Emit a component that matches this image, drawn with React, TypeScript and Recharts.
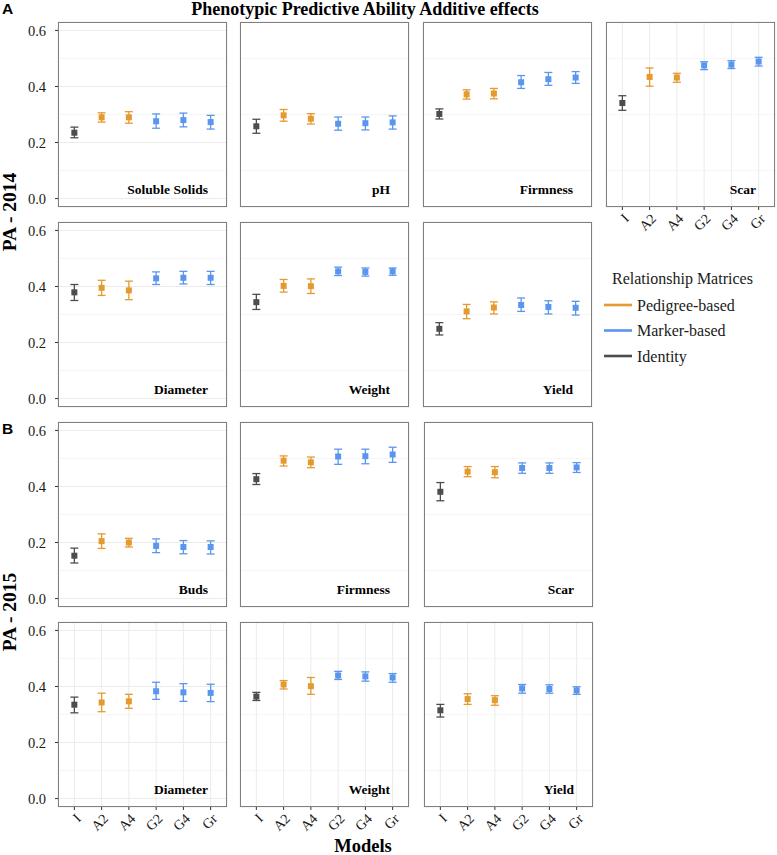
import React from "react";
import { CartesianGrid, ErrorBar, ReferenceLine, Scatter, ScatterChart, XAxis, YAxis } from "recharts";

const models = ["I", "A2", "A4", "G2", "G4", "Gr"];
const modelGroup = ["Identity", "Pedigree-based", "Pedigree-based", "Marker-based", "Marker-based", "Marker-based"];
const legendOrder = ["Pedigree-based", "Marker-based", "Identity"];
const yTicks = [0, 0.2, 0.4, 0.6];
const yMinor = [0.1, 0.3, 0.5];

// 2014 - mean PA and interval ends, model order as in `models`
const ss14 = [0.235, 0.29, 0.29, 0.276, 0.28, 0.273];
const ss14Lo = [0.217, 0.273, 0.269, 0.251, 0.256, 0.248];
const ss14Hi = [0.255, 0.306, 0.31, 0.302, 0.305, 0.297];
const ph14 = [0.258, 0.297, 0.285, 0.267, 0.269, 0.272];
const ph14Lo = [0.233, 0.276, 0.266, 0.244, 0.245, 0.248];
const ph14Hi = [0.283, 0.318, 0.303, 0.291, 0.291, 0.295];
const firm14 = [0.302, 0.372, 0.375, 0.415, 0.426, 0.432];
const firm14Lo = [0.284, 0.355, 0.356, 0.393, 0.404, 0.411];
const firm14Hi = [0.32, 0.388, 0.393, 0.439, 0.45, 0.453];
const scar14 = [0.341, 0.434, 0.432, 0.475, 0.478, 0.489];
const scar14Lo = [0.315, 0.401, 0.415, 0.46, 0.464, 0.473];
const scar14Hi = [0.367, 0.466, 0.447, 0.488, 0.492, 0.504];
const diam14 = [0.379, 0.395, 0.386, 0.429, 0.431, 0.431];
const diam14Lo = [0.35, 0.368, 0.353, 0.407, 0.409, 0.407];
const diam14Hi = [0.407, 0.422, 0.419, 0.452, 0.454, 0.454];
const wt14 = [0.344, 0.402, 0.401, 0.454, 0.452, 0.454];
const wt14Lo = [0.318, 0.38, 0.375, 0.439, 0.437, 0.44];
const wt14Hi = [0.372, 0.425, 0.427, 0.469, 0.466, 0.466];
const yld14 = [0.249, 0.311, 0.325, 0.334, 0.327, 0.324];
const yld14Lo = [0.227, 0.285, 0.302, 0.311, 0.302, 0.298];
const yld14Hi = [0.271, 0.336, 0.345, 0.359, 0.349, 0.347];

// 2015
const buds15 = [0.153, 0.205, 0.2, 0.188, 0.184, 0.184];
const buds15Lo = [0.127, 0.179, 0.184, 0.164, 0.16, 0.159];
const buds15Hi = [0.18, 0.231, 0.215, 0.213, 0.207, 0.206];
const firm15 = [0.426, 0.492, 0.486, 0.507, 0.508, 0.514];
const firm15Lo = [0.407, 0.473, 0.467, 0.479, 0.481, 0.486];
const firm15Hi = [0.446, 0.509, 0.505, 0.533, 0.533, 0.54];
const scar15 = [0.381, 0.453, 0.451, 0.466, 0.466, 0.468];
const scar15Lo = [0.349, 0.435, 0.431, 0.447, 0.447, 0.45];
const scar15Hi = [0.414, 0.471, 0.471, 0.484, 0.484, 0.485];
const diam15 = [0.335, 0.343, 0.347, 0.383, 0.379, 0.377];
const diam15Lo = [0.306, 0.31, 0.322, 0.354, 0.347, 0.346];
const diam15Hi = [0.362, 0.376, 0.372, 0.415, 0.41, 0.408];
const wt15 = [0.364, 0.407, 0.401, 0.439, 0.436, 0.432];
const wt15Lo = [0.35, 0.391, 0.372, 0.425, 0.419, 0.415];
const wt15Hi = [0.379, 0.421, 0.432, 0.454, 0.452, 0.446];
const yld15 = [0.315, 0.355, 0.351, 0.393, 0.391, 0.386];
const yld15Lo = [0.291, 0.336, 0.333, 0.376, 0.376, 0.372];
const yld15Hi = [0.336, 0.374, 0.367, 0.407, 0.406, 0.399];

const colors: Record<string, string> = {
  "Pedigree-based": "#E59A2F",
  "Marker-based": "#5A96EE",
  Identity: "#4D4D4D",
};

const SERIF = "Liberation Serif, Times New Roman, serif";
const serif = { fontFamily: SERIF };
const PW = 169;
const PH = 185;
const AXW = 48;
const PAD = 3;
const XH = 42;

type PanelDef = {
  name: string;
  left: number;
  top: number;
  pa: number[];
  lo: number[];
  hi: number[];
  showY: boolean;
  showX: boolean;
};

const panels: PanelDef[] = [
  { name: "Soluble Solids", left: 58, top: 22, pa: ss14, lo: ss14Lo, hi: ss14Hi, showY: true, showX: false },
  { name: "pH", left: 240, top: 22, pa: ph14, lo: ph14Lo, hi: ph14Hi, showY: false, showX: false },
  { name: "Firmness", left: 423, top: 22, pa: firm14, lo: firm14Lo, hi: firm14Hi, showY: false, showX: false },
  { name: "Scar", left: 606, top: 22, pa: scar14, lo: scar14Lo, hi: scar14Hi, showY: false, showX: true },
  { name: "Diameter", left: 58, top: 222, pa: diam14, lo: diam14Lo, hi: diam14Hi, showY: true, showX: false },
  { name: "Weight", left: 240, top: 222, pa: wt14, lo: wt14Lo, hi: wt14Hi, showY: false, showX: false },
  { name: "Yield", left: 423, top: 222, pa: yld14, lo: yld14Lo, hi: yld14Hi, showY: false, showX: false },
  { name: "Buds", left: 58, top: 422, pa: buds15, lo: buds15Lo, hi: buds15Hi, showY: true, showX: false },
  { name: "Firmness", left: 240, top: 422, pa: firm15, lo: firm15Lo, hi: firm15Hi, showY: false, showX: false },
  { name: "Scar", left: 424, top: 422, pa: scar15, lo: scar15Lo, hi: scar15Hi, showY: false, showX: false },
  { name: "Diameter", left: 58, top: 622, pa: diam15, lo: diam15Lo, hi: diam15Hi, showY: true, showX: true },
  { name: "Weight", left: 240, top: 622, pa: wt15, lo: wt15Lo, hi: wt15Hi, showY: false, showX: true },
  { name: "Yield", left: 424, top: 622, pa: yld15, lo: yld15Lo, hi: yld15Hi, showY: false, showX: true },
];

function SlantTick(props: any) {
  const { x, y, payload } = props;
  const ax = x + 4;
  const ay = y + 4;
  return (
    <text
      x={ax}
      y={ay}
      dy="0.35em"
      transform={`rotate(-45 ${ax} ${ay})`}
      textAnchor="end"
      fontSize={14}
      style={serif}
      fill="#1a1a1a"
    >
      {models[payload.value]}
    </text>
  );
}

function SquareDot(props: any) {
  const { cx, cy, fill } = props;
  if (cx == null || cy == null) return null;
  return <rect x={cx - 3} y={cy - 3} width={6} height={6} fill={fill} />;
}

function Panel({ p }: { p: PanelDef }) {
  const series = legendOrder
    .slice()
    .reverse()
    .map((g) => ({
      group: g,
      rows: models
        .map((_, i) => ({ x: i, y: p.pa[i], err: [p.pa[i] - p.lo[i], p.hi[i] - p.pa[i]] }))
        .filter((r) => modelGroup[r.x] === g),
    }));

  return (
    <div style={{ position: "absolute", left: p.left - AXW, top: p.top - PAD }}>
      <ScatterChart
        width={AXW + PW + PAD}
        height={PAD + PH + XH}
        margin={{ top: PAD, right: PAD, left: 0, bottom: 0 }}
      >
        {yMinor.map((v) => (
          <ReferenceLine key={v} y={v} stroke="#F4F4F4" strokeWidth={0.8} />
        ))}
        <CartesianGrid stroke="#EBEBEB" strokeWidth={1} />
        <XAxis
          type="number"
          dataKey="x"
          domain={[-0.6, 5.6]}
          ticks={[0, 1, 2, 3, 4, 5]}
          interval={0}
          axisLine={false}
          tickSize={3}
          tickLine={{ stroke: "#333" }}
          height={XH}
          tick={p.showX ? <SlantTick /> : false}
        />
        <YAxis
          type="number"
          dataKey="y"
          domain={[-0.03, 0.63]}
          ticks={yTicks}
          interval={0}
          axisLine={false}
          tickSize={3}
          tickMargin={9}
          tickLine={{ stroke: "#333" }}
          width={AXW}
          tickFormatter={(v: number) => v.toFixed(1)}
          tick={p.showY ? { fontSize: 14.5, fill: "#1a1a1a", style: serif } : false}
        />
        {series.map((s) => (
          <Scatter
            key={s.group}
            data={s.rows}
            fill={colors[s.group]}
            shape={<SquareDot />}
            isAnimationActive={false}
          >
            <ErrorBar dataKey="err" direction="y" width={4} stroke={colors[s.group]} strokeWidth={1.3} />
          </Scatter>
        ))}
      </ScatterChart>
      <div
        style={{
          position: "absolute",
          left: AXW,
          top: PAD,
          width: PW,
          height: PH,
          boxSizing: "border-box",
          border: "1px solid #7F7F7F",
          pointerEvents: "none",
        }}
      />
    </div>
  );
}

export default function App() {
  return (
    <div
      style={{
        position: "absolute",
        left: 0,
        top: 0,
        width: 777,
        height: 855,
        background: "#fff",
        overflow: "hidden",
      }}
    >
      {panels.map((p, i) => (
        <Panel key={i} p={p} />
      ))}
      <svg width={777} height={855} style={{ position: "absolute", left: 0, top: 0, pointerEvents: "none" }}>
        <text x={365} y={14.5} textAnchor="middle" style={serif} fontWeight="bold" fontSize={18} fill="#000">
          Phenotypic Predictive Ability Additive effects
        </text>
        <text x={2} y={14} style={{ fontFamily: "Liberation Sans, Arial, sans-serif" }} fontWeight="bold" fontSize={15.5} fill="#000">
          A
        </text>
        <text x={2} y={434} style={{ fontFamily: "Liberation Sans, Arial, sans-serif" }} fontWeight="bold" fontSize={15.5} fill="#000">
          B
        </text>
        <text
          x={16}
          y={212}
          transform="rotate(-90 16 212)"
          textAnchor="middle"
          style={serif}
          fontWeight="bold"
          fontSize={19.5}
          fill="#000"
        >
          PA - 2014
        </text>
        <text
          x={16}
          y={612}
          transform="rotate(-90 16 612)"
          textAnchor="middle"
          style={serif}
          fontWeight="bold"
          fontSize={19.5}
          fill="#000"
        >
          PA - 2015
        </text>
        <text x={363} y={852} textAnchor="middle" style={serif} fontWeight="bold" fontSize={18.5} fill="#000">
          Models
        </text>
        {panels.map((p, i) => (
          <text
            key={i}
            x={p.left + PW - 19}
            y={p.top + PH - 13}
            textAnchor="end"
            style={serif}
            fontWeight="bold"
            fontSize={13.5}
            fill="#000"
          >
            {p.name}
          </text>
        ))}
        <text x={612} y={284} style={serif} fontSize={16} fill="#1a1a1a">
          Relationship Matrices
        </text>
        {legendOrder.map((g, i) => (
          <g key={g}>
            <line x1={604} x2={632} y1={305 + i * 25.5} y2={305 + i * 25.5} stroke={colors[g]} strokeWidth={2.6} />
            <text x={637} y={310.5 + i * 25.5} style={serif} fontSize={16} fill="#1a1a1a">
              {g}
            </text>
          </g>
        ))}
      </svg>
    </div>
  );
}
